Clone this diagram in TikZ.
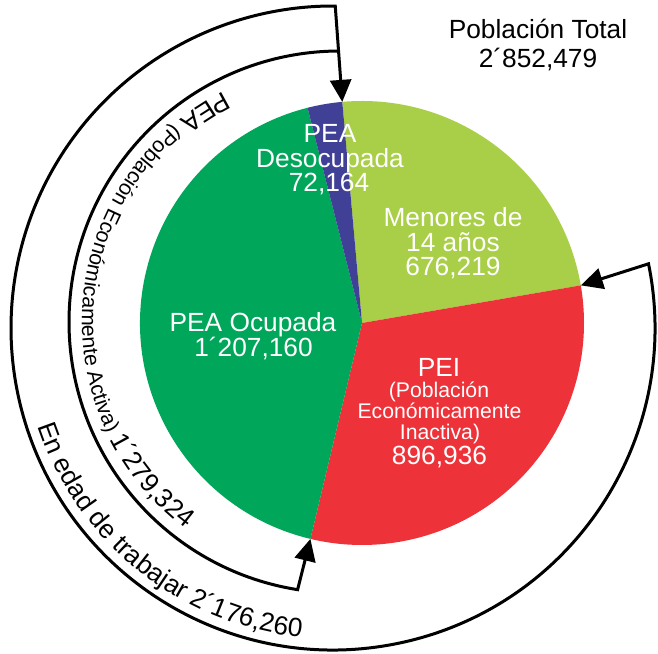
\documentclass[tikz,border=0pt]{standalone}
\usepackage{fontspec}
\setmainfont{Liberation Sans}
\usetikzlibrary{arrows.meta,decorations.text,calc}
\definecolor{ocup}{RGB}{0,166,90}
\definecolor{menor}{RGB}{169,206,71}
\definecolor{peicol}{RGB}{238,50,57}
\definecolor{desoc}{RGB}{63,64,150}
\newcommand\bigf{\fontsize{26.3pt}{26pt}\selectfont}
\newcommand\smallf{\fontsize{21.2pt}{21pt}\selectfont}
\begin{document}
\begin{tikzpicture}[x=1pt,y=1pt,
  conn/.style={line width=3pt, draw=black},
  >={Triangle[length=22pt,width=21pt]},
  lblw/.style={inner sep=0pt, anchor=base, font=\bigf, text=white},
  lbls/.style={inner sep=0pt, anchor=base, font=\smallf, text=white},
  lblb/.style={inner sep=0pt, anchor=base, font=\bigf, text=black}]
\fill[white] (0,0) rectangle (658,653);
\useasboundingbox (0,0) rectangle (658,653);
% pie
\coordinate (C) at (362,330);
\fill[menor] (C) -- ++(95.1:222) arc[start angle=95.1, end angle=9.76, radius=222] -- cycle;
\fill[peicol] (C) -- ++(9.76:222) arc[start angle=9.76, end angle=-103.44, radius=222] -- cycle;
\fill[ocup] (C) -- ++(-103.44:222) arc[start angle=-103.44, end angle=-255.79, radius=222] -- cycle;
\fill[desoc] (C) -- ++(104.21:222) arc[start angle=104.21, end angle=95.1, radius=222] -- cycle;
% key points
\coordinate (ptop) at ($(C)+(95.1:222)$);
\coordinate (pright) at ($(C)+(9.76:222)$);
\coordinate (pbot) at ($(C)+(-103.44:222)$);
\coordinate (O) at (333,325);
\coordinate (I) at (340,331);
\coordinate (oR) at ($(O)+(11.5:322)$);
\coordinate (iT) at ($(I)+(90.4:271)$);
% brackets
\draw[conn,<->] (pright) -- (oR) arc[start angle=11.5, end angle=-270.4, radius=322] -- (ptop);
\draw[conn,->] (iT) arc[start angle=90.4, end angle=261, radius=271] -- (pbot);
% curved texts
\path[decorate, decoration={text along path, text align=center,
  text={|\bigf|PEA |\smallf|(Población Económicamente Activa) |\bigf|1´279,324}}]
  ($(I)+(100:258)$) arc[start angle=100, end angle=250, radius=258];
\path[decorate, decoration={text along path, text align=center,
  text={|\bigf|En edad de trabajar 2´176,260}}]
  ($(O)+(181.3:311)$) arc[start angle=181.3, end angle=281.3, radius=311];
% labels
\node[lblb] (tot1) at (538,614) {Población Total};
\node[lblb] (tot2) at (538,585) {2´852,479};
\node[lblw] (pd1) at (330,510) {PEA};
\node[lblw] (pd2) at (330,485) {Desocupada};
\node[lblw] (pd3) at (329,461) {72,164};
\node[lblw] (me1) at (453,426) {Menores de};
\node[lblw] (me2) at (453,401) {14 años};
\node[lblw] (me3) at (453,377) {676,219};
\node[lblw] (po1) at (253,321) {PEA Ocupada};
\node[lblw] (po2) at (253.5,296) {1´207,160};
\node[lblw] (pe1) at (439,276) {PEI};
\node[lbls] (pe2) at (439,255.3) {(Población};
\node[lbls] (pe3) at (439.5,234) {Económicamente};
\node[lbls] (pe4) at (440,213) {Inactiva)};
\node[lblw] (pe5) at (439.5,188) {896,936};
\end{tikzpicture}
\end{document}
